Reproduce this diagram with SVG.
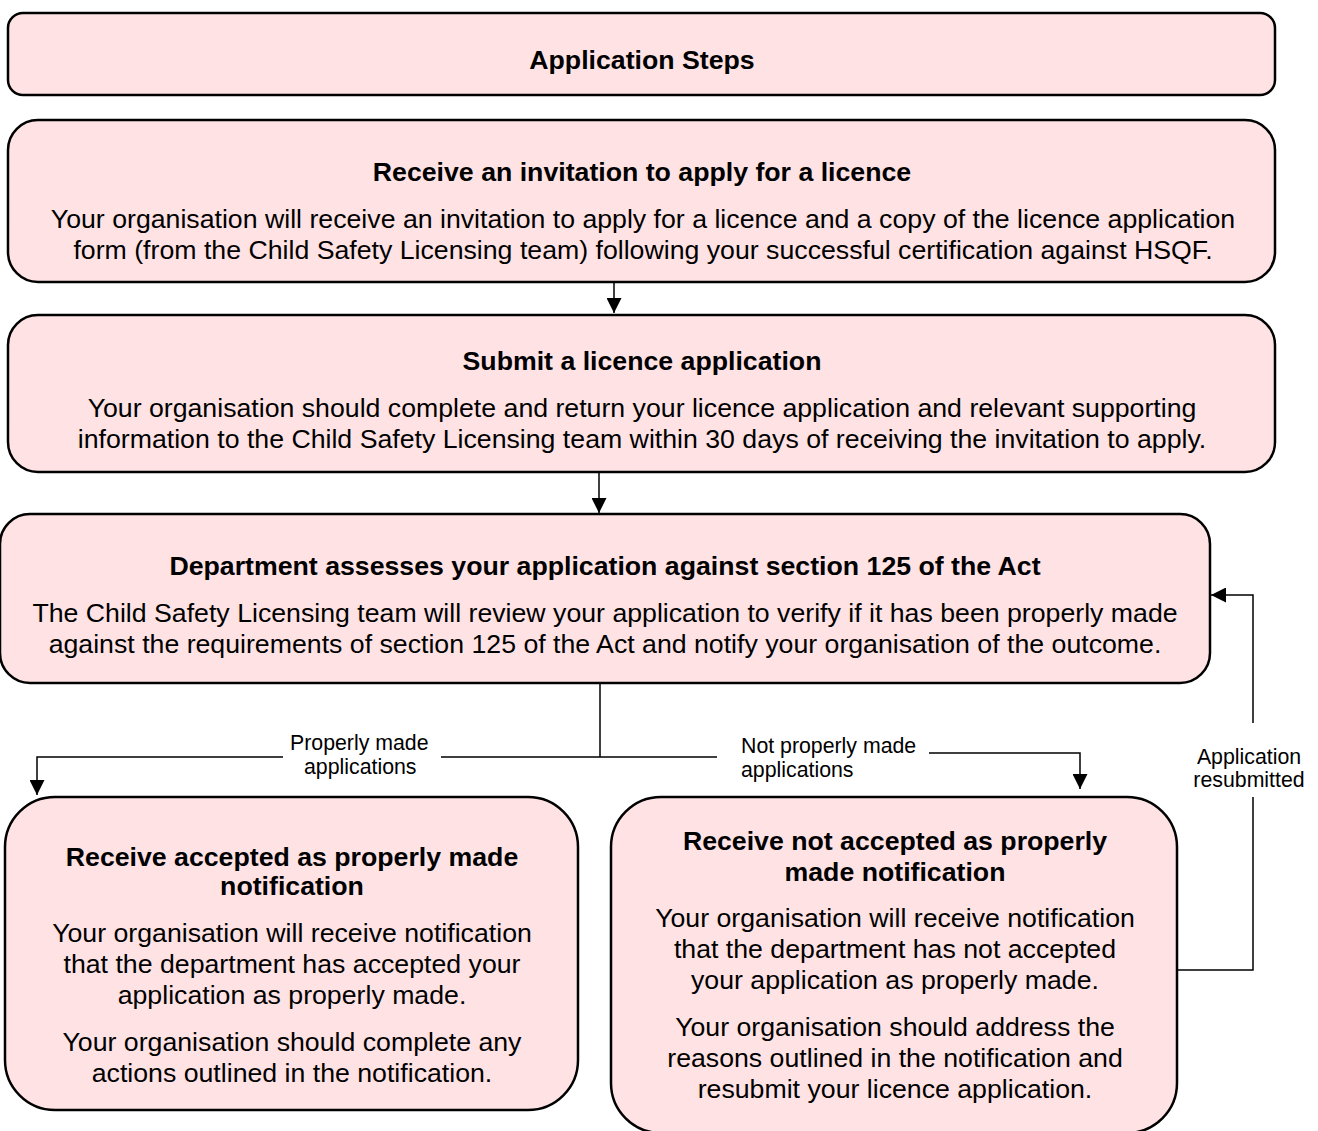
<svg xmlns="http://www.w3.org/2000/svg" width="1318" height="1131" viewBox="0 0 1318 1131">
<defs>
<style>
.box{fill:#ffe3e4;stroke:#000;stroke-width:2.5}
.t{font-family:"Liberation Sans",Arial,sans-serif;font-size:26.7px;fill:#000;text-anchor:middle}
.b{font-weight:bold}
.lbl{font-family:"Liberation Sans",Arial,sans-serif;font-size:21.3px;fill:#000}
.ln{fill:none;stroke:#000;stroke-width:1.5}
</style>
<marker id="ah" markerWidth="15" markerHeight="15" viewBox="0 0 15 15" refX="15" refY="7.5" orient="auto" markerUnits="userSpaceOnUse">
<path d="M0,0 L15,7.5 L0,15 Z" fill="#000"/>
</marker>
</defs>
<g id="connectors">
<path class="ln" d="M614,283 V313" marker-end="url(#ah)"/>
<path class="ln" d="M599,472 V513" marker-end="url(#ah)"/>
<path class="ln" d="M600,683 V757"/>
<path class="ln" d="M600,757 H441 M283,757 H37 V795" marker-end="url(#ah)"/>
<path class="ln" d="M600,757 H717"/>
<path class="ln" d="M929,753 H1080 V789" marker-end="url(#ah)"/>
<path class="ln" d="M1177,970 H1253 V797"/>
<path class="ln" d="M1253,723 V595 H1211" marker-end="url(#ah)"/>
<text class="lbl" x="290" y="750">Properly made</text>
<text class="lbl" x="304" y="774">applications</text>
<text class="lbl" x="741" y="753">Not properly made</text>
<text class="lbl" x="741" y="777">applications</text>
<text class="lbl" x="1249" y="764" text-anchor="middle">Application</text>
<text class="lbl" x="1249" y="787" text-anchor="middle">resubmitted</text>
</g>
<g id="n1">
<rect class="box" x="8" y="13" width="1267" height="82" rx="15"/>
<text class="t b" x="642" y="68.5">Application Steps</text>
</g>
<g id="n2">
<rect class="box" x="8" y="120" width="1267" height="162" rx="30"/>
<text class="t b" x="642" y="180.5">Receive an invitation to apply for a licence</text>
<text class="t" x="643" y="227.5">Your organisation will receive an invitation to apply for a licence and a copy of the licence application</text>
<text class="t" x="643" y="258.5">form (from the Child Safety Licensing team) following your successful certification against HSQF.</text>
</g>
<g id="n3">
<rect class="box" x="8" y="315" width="1267" height="157" rx="30"/>
<text class="t b" x="642" y="369.5">Submit a licence application</text>
<text class="t" x="642" y="416.5">Your organisation should complete and return your licence application and relevant supporting</text>
<text class="t" x="642" y="447.5">information to the Child Safety Licensing team within 30 days of receiving the invitation to apply.</text>
</g>
<g id="n4">
<rect class="box" x="0" y="514" width="1210" height="169" rx="30"/>
<text class="t b" x="605" y="574.5">Department assesses your application against section 125 of the Act</text>
<text class="t" x="605" y="621.5">The Child Safety Licensing team will review your application to verify if it has been properly made</text>
<text class="t" x="605" y="652.5">against the requirements of section 125 of the Act and notify your organisation of the outcome.</text>
</g>
<g id="n5">
<rect class="box" x="5" y="797" width="573" height="313" rx="50"/>
<text class="t b" x="292" y="865.5">Receive accepted as properly made</text>
<text class="t b" x="292" y="894.5">notification</text>
<text class="t" x="292" y="941.5">Your organisation will receive notification</text>
<text class="t" x="292" y="972.5">that the department has accepted your</text>
<text class="t" x="292" y="1003.5">application as properly made.</text>
<text class="t" x="292" y="1050.5">Your organisation should complete any</text>
<text class="t" x="292" y="1081.5">actions outlined in the notification.</text>
</g>
<g id="n6">
<rect class="box" x="611" y="797" width="566" height="336" rx="50"/>
<text class="t b" x="895" y="849.5">Receive not accepted as properly</text>
<text class="t b" x="895" y="880.5">made notification</text>
<text class="t" x="895" y="926.5">Your organisation will receive notification</text>
<text class="t" x="895" y="957.5">that the department has not accepted</text>
<text class="t" x="895" y="988.5">your application as properly made.</text>
<text class="t" x="895" y="1035.5">Your organisation should address the</text>
<text class="t" x="895" y="1066.5">reasons outlined in the notification and</text>
<text class="t" x="895" y="1097.5">resubmit your licence application.</text>
</g>
</svg>
